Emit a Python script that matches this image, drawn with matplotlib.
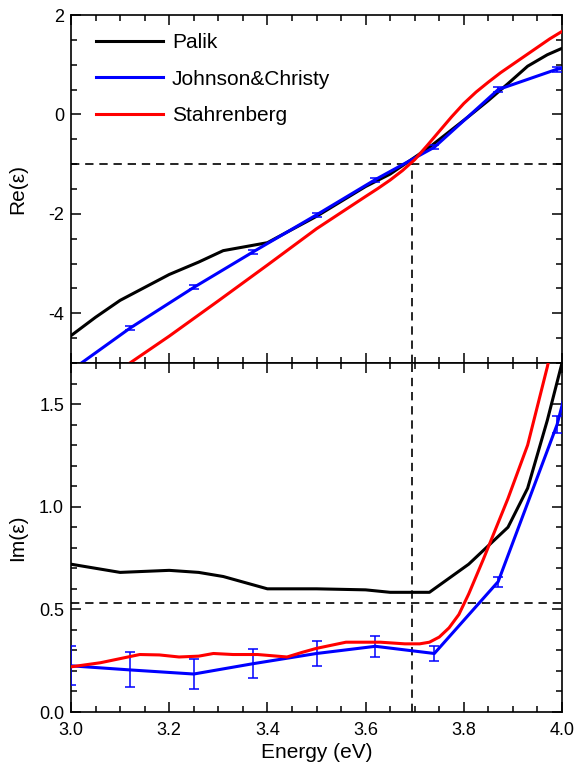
import matplotlib
matplotlib.use('Agg')
import matplotlib.pyplot as plt
from matplotlib.ticker import MultipleLocator

plt.rcParams['font.family'] = ['Liberation Sans', 'DejaVu Sans']
plt.rcParams['axes.unicode_minus'] = False

# ---------------- data ----------------
palik_e = [3.0, 3.05, 3.1, 3.2, 3.26, 3.31, 3.4, 3.5, 3.6, 3.65, 3.73, 3.81, 3.85, 3.89, 3.93, 3.97, 4.0]
palik_re = [-4.45, -4.08, -3.74, -3.22, -2.97, -2.74, -2.58, -2.05, -1.45, -1.2, -0.66, -0.04, 0.28, 0.62, 0.97, 1.20, 1.33]
palik_im = [0.72, 0.70, 0.68, 0.69, 0.68, 0.66, 0.60, 0.60, 0.595, 0.583, 0.583, 0.72, 0.81, 0.90, 1.09, 1.42, 1.70]

jc_e = [3.00, 3.12, 3.25, 3.37, 3.50, 3.62, 3.74, 3.87, 3.99, 4.12]
jc_re = [-5.15, -4.30, -3.48, -2.77, -2.02, -1.31, -0.66, 0.50, 0.91, 1.10]
jc_re_err = [0.04, 0.04, 0.04, 0.04, 0.04, 0.04, 0.04, 0.05, 0.05, 0.05]
jc_im = [0.225, 0.205, 0.185, 0.235, 0.285, 0.32, 0.285, 0.635, 1.40, 2.60]
jc_im_err = [0.095, 0.085, 0.075, 0.07, 0.06, 0.05, 0.035, 0.025, 0.04, 0.04]

stahr_e_re = [3.0, 3.12, 3.2, 3.3, 3.4, 3.5, 3.6, 3.625, 3.65, 3.675, 3.7, 3.725, 3.75, 3.775, 3.8,
              3.825, 3.85, 3.875, 3.9, 3.925, 3.95, 3.975, 4.0]
stahr_re = [-5.83, -5.0, -4.46, -3.75, -3.03, -2.3, -1.65, -1.49, -1.32, -1.13, -0.91, -0.63, -0.34, -0.05, 0.22,
            0.45, 0.65, 0.84, 1.01, 1.18, 1.35, 1.52, 1.67]
stahr_e_im = [3.0, 3.06, 3.1, 3.14, 3.18, 3.22, 3.26, 3.29, 3.33, 3.38, 3.44, 3.47, 3.5, 3.56, 3.63,
              3.68, 3.71, 3.73, 3.75, 3.77, 3.79, 3.81, 3.84, 3.89, 3.93, 3.97, 4.0]
stahr_im = [0.22, 0.24, 0.26, 0.28, 0.278, 0.268, 0.272, 0.285, 0.28, 0.28, 0.268, 0.29, 0.31, 0.34, 0.34,
            0.332, 0.332, 0.34, 0.365, 0.41, 0.475, 0.575, 0.745, 1.04, 1.30, 1.68, 2.0]

e_ref = 3.694
re_ref = -1.0
im_ref = 0.53

labels = ['Palik', 'Johnson&Christy', 'Stahrenberg']
colors = ['black', '#0000ff', '#ff0000']

# ---------------- figure ----------------
fig = plt.figure(figsize=(5.75, 7.65), dpi=100)
ax1 = fig.add_axes([0.12348, 0.52549, 0.85391, 0.45490])
ax2 = fig.add_axes([0.12348, 0.06928, 0.85391, 0.45621])

lw = 2.2
dash = (0, (5, 3.5))

# top panel
ax1.axhline(re_ref, color='black', lw=1.2, ls=dash, zorder=1)
ax1.plot([e_ref, e_ref], [-5, re_ref], color='black', lw=1.2, ls=dash, zorder=1)
h1, = ax1.plot(palik_e, palik_re, color=colors[0], lw=lw, label=labels[0], zorder=3)
h2, = ax1.plot(jc_e, jc_re, color=colors[1], lw=lw, label=labels[1], zorder=3)
ax1.errorbar(jc_e, jc_re, yerr=jc_re_err, fmt='none', ecolor=colors[1], elinewidth=1.1,
             capsize=3.6, capthick=1.1, zorder=3)
h3, = ax1.plot(stahr_e_re, stahr_re, color=colors[2], lw=lw, label=labels[2], zorder=4)

ax1.set_xlim(3.0, 4.0)
ax1.set_ylim(-5, 2)
ax1.xaxis.set_major_locator(MultipleLocator(0.2))
ax1.xaxis.set_minor_locator(MultipleLocator(0.05))
ax1.yaxis.set_major_locator(MultipleLocator(2))
ax1.yaxis.set_minor_locator(MultipleLocator(0.5))
ax1.tick_params(labelbottom=False)
ax1.set_ylabel('Re(ε)', fontsize=15)
ax1.yaxis.set_label_coords(-0.09, 0.5)

ax1.legend(handles=[h1, h2, h3], loc='upper left', bbox_to_anchor=(0.034, 0.972),
           frameon=False, fontsize=15, handlelength=3.2, handletextpad=0.45,
           labelspacing=0.84, borderaxespad=0)

# bottom panel
ax2.axhline(im_ref, color='black', lw=1.2, ls=dash, zorder=1)
ax2.axvline(e_ref, color='black', lw=1.2, ls=dash, zorder=1)
ax2.plot(palik_e, palik_im, color=colors[0], lw=lw, zorder=3)
ax2.plot(jc_e, jc_im, color=colors[1], lw=lw, zorder=3)
ax2.errorbar(jc_e, jc_im, yerr=jc_im_err, fmt='none', ecolor=colors[1], elinewidth=1.1,
             capsize=3.6, capthick=1.1, zorder=3)
ax2.plot(stahr_e_im, stahr_im, color=colors[2], lw=lw, zorder=4)

ax2.set_xlim(3.0, 4.0)
ax2.set_ylim(0, 1.7)
ax2.xaxis.set_major_locator(MultipleLocator(0.2))
ax2.xaxis.set_minor_locator(MultipleLocator(0.05))
ax2.yaxis.set_major_locator(MultipleLocator(0.5))
ax2.yaxis.set_minor_locator(MultipleLocator(0.1))
ax2.yaxis.set_major_formatter(plt.FormatStrFormatter('%.1f'))
ax2.xaxis.set_major_formatter(plt.FormatStrFormatter('%.1f'))
ax2.set_ylabel('Im(ε)', fontsize=15)
ax2.yaxis.set_label_coords(-0.09, 0.5)
ax2.set_xlabel('Energy (eV)', fontsize=15)
ax2.xaxis.set_label_coords(0.5, -0.09)

for ax in (ax1, ax2):
    ax.tick_params(which='both', direction='in', top=True, right=True, width=1.1, labelsize=13)
    ax.tick_params(which='major', length=7, pad=5)
    ax.tick_params(which='minor', length=4)
    for sp in ax.spines.values():
        sp.set_linewidth(1.2)
ax2.tick_params(axis='x', which='major', pad=7)

fig.savefig('out.png', dpi=100)
